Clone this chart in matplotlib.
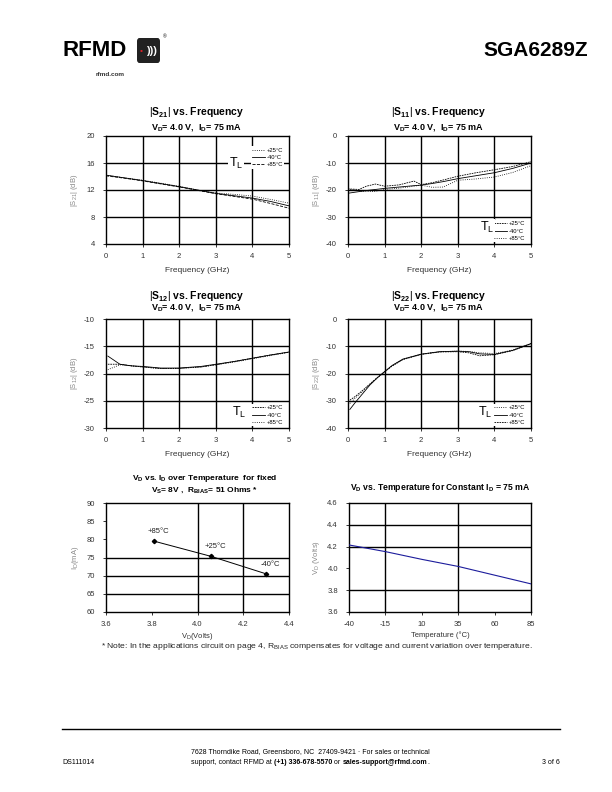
import numpy as np
import matplotlib.pyplot as plt
from matplotlib.lines import Line2D
from matplotlib.patches import FancyBboxPatch

plt.rcParams['font.family'] = ['Liberation Sans', 'DejaVu Sans']
plt.rcParams['mathtext.fontset'] = 'custom'
plt.rcParams['mathtext.rm'] = 'Liberation Sans'
plt.rcParams['mathtext.it'] = 'Liberation Sans:italic'
plt.rcParams['mathtext.bf'] = 'Liberation Sans:bold'
plt.rcParams['axes.unicode_minus'] = False

# ---- data ----
s21_freq = [0, 0.5, 1, 1.5, 2, 2.5, 3, 3.5, 4, 4.5, 5]
s21_p25 = [14.2, 13.8, 13.45, 13.0, 12.55, 12.0, 11.55, 11.35, 11.1, 10.6, 10.05]
s21_m40 = [14.2, 13.8, 13.4, 12.95, 12.5, 12.0, 11.5, 11.15, 10.8, 10.3, 9.65]
s21_p85 = [14.1, 13.75, 13.35, 12.9, 12.45, 11.95, 11.45, 11.05, 10.65, 10.0, 9.3]

s11_freq = [0, 0.3, 0.5, 0.75, 1, 1.4, 1.8, 2, 2.3, 2.6, 3, 3.5, 4, 4.5, 5]
s11_p25 = [-19.6, -19.8, -18.6, -17.8, -18.6, -18.1, -16.7, -18.0, -17.3, -16.3, -14.9, -13.6, -12.5, -11.3, -9.5]
s11_m40 = [-21.2, -20.6, -20.2, -19.8, -19.4, -18.9, -18.4, -18.2, -17.6, -16.9, -15.8, -14.7, -13.6, -12.0, -10.0]
s11_p85 = [-19.6, -20.3, -20.6, -20.5, -19.8, -19.3, -18.6, -18.2, -19.0, -18.9, -16.4, -15.9, -15.2, -13.5, -11.0]

s12_freq = [0.05, 0.38, 0.7, 1, 1.5, 2, 2.6, 3, 3.5, 4, 4.5, 5]
s12_p25 = [-18.3, -18.3, -18.6, -18.8, -19.1, -19.05, -18.8, -18.4, -17.8, -17.2, -16.6, -16.1]
s12_m40 = [-16.8, -18.3, -18.6, -18.7, -19.0, -19.0, -18.7, -18.3, -17.8, -17.2, -16.6, -16.05]
s12_p85 = [-19.3, -18.4, -18.6, -18.8, -19.1, -19.05, -18.8, -18.4, -17.9, -17.3, -16.7, -16.1]

s22_freq = [0.05, 0.2, 0.4, 0.6, 0.8, 1, 1.2, 1.5, 2, 2.5, 3, 3.3, 3.6, 4, 4.5, 5]
s22_p25 = [-31.0, -29.0, -26.6, -24.0, -21.6, -19.4, -17.2, -14.8, -12.9, -12.0, -11.8, -11.9, -12.4, -12.7, -11.4, -9.0]
s22_m40 = [-33.2, -30.6, -27.4, -24.2, -21.6, -19.3, -17.1, -14.7, -12.9, -12.0, -11.8, -12.0, -12.8, -13.0, -11.5, -9.0]
s22_p85 = [-29.8, -28.4, -26.2, -23.8, -21.5, -19.4, -17.3, -14.9, -13.0, -12.1, -12.0, -12.4, -13.5, -13.1, -11.6, -9.1]

vd_points = [3.81, 4.06, 4.30]
id_points = [79.5, 75.3, 70.5]
point_labels = ['+85°C', '+25°C', '-40°C']

temp_c = [-40, -15, 10, 35, 60, 85]
vd_temp = [4.215, 4.154, 4.083, 4.018, 3.938, 3.858]

W, H = 612, 792
fig = plt.figure(figsize=(6.12, 7.92), dpi=100)


def px_axes(l, t, r, b):
    return fig.add_axes([l / W, 1 - b / H, (r - l) / W, (b - t) / H])


def ftext(x, y, s, **kw):
    return fig.text(x / W, 1 - y / H, s, **kw)


def style(ax, xlim, ylim, xticks, yticks, xgrid, ygrid):
    ax.set_xlim(xlim)
    ax.set_ylim(ylim)
    ax.set_xticks(xticks)
    ax.set_yticks(yticks)
    for v in xgrid:
        ax.axvline(v, color='black', lw=1.0, zorder=1)
    for v in ygrid:
        ax.axhline(v, color='black', lw=1.0, zorder=1)
    ax.tick_params(labelsize=5.5, length=2, width=0.7, colors='#333', pad=4.5)
    ax.tick_params(axis='y', pad=6)
    for s in ax.spines.values():
        s.set_linewidth(1.0)


def sparam(ax, curves, styles, ylim, yticks, ylabel, leg_anchor, leg_loc, tl_xy):
    for y, ls in zip(curves, styles):
        ax.plot(y[0], y[1], color='black', lw=0.6, ls=ls, zorder=3)
    style(ax, (0, 5), ylim, range(6), yticks, [1, 2, 3, 4], yticks[1:-1])
    ax.set_xlabel('Frequency (GHz)', fontsize=6, color='#333')
    ax.xaxis.set_label_coords(0.5, -0.21)
    ax.set_ylabel(ylabel, fontsize=5.5, color='#888')
    ax.yaxis.set_label_coords(-0.14, 0.5)
    handles = [Line2D([], [], color='black', lw=0.6, ls=ls) for ls in styles]
    leg = ax.legend(handles, ['+25°C', '-40°C', '+85°C'], loc=leg_loc,
                    bbox_to_anchor=leg_anchor, fontsize=4.2, handlelength=2.2,
                    handletextpad=0.2, labelspacing=0.35, borderpad=0.25,
                    frameon=True, fancybox=False, framealpha=1)
    leg.get_frame().set_edgecolor('none')
    leg.set_zorder(5)
    ax.text(tl_xy[0], tl_xy[1], 'T$_\\mathrm{L}$', transform=ax.transAxes, fontsize=9,
            ha='center', va='center', zorder=6,
            bbox=dict(facecolor='white', edgecolor='none', pad=0.5))


def titles(cx, y1, y2, s):
    ftext(cx, y1, r'$\left|\mathbf{S}_{\mathbf{' + s + r'}}\right|$ vs. Frequency',
          fontsize=7.5, fontweight='bold', ha='center', va='center')
    ftext(cx, y2, r'V$_\mathbf{D}$= 4.0 V,  I$_\mathbf{D}$= 75 mA',
          fontsize=6.5, fontweight='bold', ha='center', va='center')


# |S21|
ax1 = px_axes(106, 136, 289, 244)
sparam(ax1, [(s21_freq, s21_p25), (s21_freq, s21_m40), (s21_freq, s21_p85)],
       [':', '-', '--'], (4, 20), [4, 8, 12, 16, 20], '|S$_{21}$| (dB)',
       (0.99, 0.93), 'upper right', (0.71, 0.75))
titles(197, 113, 127.5, '21')

# |S11|
ax2 = px_axes(348, 136, 531, 244)
sparam(ax2, [(s11_freq, s11_p25), (s11_freq, s11_m40), (s11_freq, s11_p85)],
       [(0, (2, 1)), '-', ':'], (-40, 0), [-40, -30, -20, -10, 0], '|S$_{11}$| (dB)',
       (0.99, -0.01), 'lower right', (0.76, 0.15))
titles(439, 113, 127.5, '11')

# |S12|
ax3 = px_axes(106, 319, 289, 428)
sparam(ax3, [(s12_freq, s12_p25), (s12_freq, s12_m40), (s12_freq, s12_p85)],
       [(0, (2, 1)), '-', ':'], (-30, -10), [-30, -25, -20, -15, -10], '|S$_{12}$| (dB)',
       (0.99, -0.01), 'lower right', (0.73, 0.14))
titles(197, 296.5, 308, '12')

# |S22|
ax4 = px_axes(348, 319, 531, 428)
sparam(ax4, [(s22_freq, s22_p25), (s22_freq, s22_m40), (s22_freq, s22_p85)],
       [':', '-', (0, (2, 1))], (-40, 0), [-40, -30, -20, -10, 0], '|S$_{22}$| (dB)',
       (0.99, -0.01), 'lower right', (0.75, 0.14))
titles(439, 296.5, 308, '22')

# VD vs ID
ax5 = px_axes(106, 503, 289, 612)
ax5.plot(vd_points, id_points, color='black', lw=0.7, marker='D', ms=2.2, zorder=3)
style(ax5, (3.6, 4.4), (60, 90), np.arange(3.6, 4.41, 0.2), range(60, 91, 5),
      [4.0, 4.2], [65, 70, 75])
ax5.xaxis.set_major_formatter(plt.FormatStrFormatter('%.1f'))
for x, y, lab in zip(vd_points, id_points, point_labels):
    ax5.text(x + 0.02, y + 2.6, lab, fontsize=5.5, ha='center', va='center', color='#222')
ax5.set_xlabel('V$_\\mathrm{D}$(Volts)', fontsize=5.5, color='#333')
ax5.xaxis.set_label_coords(0.5, -0.17)
ax5.set_ylabel('I$_\\mathrm{D}$(mA)', fontsize=5.5, color='#888')
ax5.yaxis.set_label_coords(-0.135, 0.5)
ftext(205, 479, r'V$_\mathbf{D}$ vs. I$_\mathbf{D}$ over Temperature  for fixed',
      fontsize=6, fontweight='bold', ha='center', va='center')
ftext(205, 490.5, r'V$_\mathbf{S}$= 8V ,  R$_\mathbf{BIAS}$= 51 Ohms *',
      fontsize=6, fontweight='bold', ha='center', va='center')

# VD vs temperature
ax6 = px_axes(349, 503, 531, 612)
ax6.plot(temp_c, vd_temp, color='#1c1c9c', lw=0.8, zorder=3)
style(ax6, (-40, 85), (3.6, 4.6), temp_c, np.arange(3.6, 4.61, 0.2),
      [-15, 35], [3.8, 4.2, 4.4])
ax6.yaxis.set_major_formatter(plt.FormatStrFormatter('%.1f'))
ax6.set_xlabel('Temperature (°C)', fontsize=5.5, color='#333')
ax6.xaxis.set_label_coords(0.5, -0.18)
ax6.set_ylabel('V$_\\mathrm{D}$ (Volts)', fontsize=5.5, color='#888')
ax6.yaxis.set_label_coords(-0.15, 0.5)
ftext(440, 488, r'V$_\mathbf{D}$ vs. Temperature for Constant I$_\mathbf{D}$ = 75 mA',
      fontsize=6.2, fontweight='bold', ha='center', va='center')

ftext(317, 647, '* Note: In the applications circuit on page 4, R$_\\mathrm{BIAS}$ compensates '
      'for voltage and current variation over temperature.',
      fontsize=6.1, ha='center', va='center', color='#222')

# header
ftext(62, 50, 'RFMD', fontsize=16, fontweight='bold', ha='left', va='center')
fig.patches.append(FancyBboxPatch((137 / W, 1 - 63 / H), 23 / W, 25 / H,
                                  boxstyle='round,pad=0,rounding_size=0.004',
                                  transform=fig.transFigure, facecolor='#222',
                                  edgecolor='none'))
ftext(141.5, 51, '•', fontsize=6, color='#e01e26', ha='center', va='center')
ftext(151, 50.5, ')))', fontsize=8, fontweight='bold', color='white', ha='center', va='center')
ftext(163, 37, '®', fontsize=3.5, ha='left', va='center')
ftext(110, 74, 'rfmd.com', fontsize=4.6, fontweight='bold', ha='center', va='center', color='#333')
ftext(588, 50, 'SGA6289Z', fontsize=15, fontweight='bold', ha='right', va='center')

# footer
fig.add_artist(Line2D([62 / W, 560 / W], [1 - 729 / H, 1 - 729 / H], color='black', lw=1.0))
ftext(62, 762, 'DS111014', fontsize=5, ha='left', va='center')
ftext(560, 762, '3 of 6', fontsize=5, ha='right', va='center')
ftext(191, 752, '7628 Thorndike Road, Greensboro, NC  27409-9421 · For sales or technical',
      fontsize=5, ha='left', va='center')
t = ftext(191, 762, 'support, contact RFMD at ', fontsize=5, ha='left', va='center')
for piece, wt in [('(+1) 336-678-5570', 'bold'), (' or ', 'normal'),
                  ('sales-support@rfmd.com', 'bold'), ('.', 'normal')]:
    t = plt.annotate(piece, xycoords=t, xy=(1, 0), va='bottom', fontsize=5,
                     fontweight=wt, annotation_clip=False)

fig.savefig('out.png', dpi=100)
